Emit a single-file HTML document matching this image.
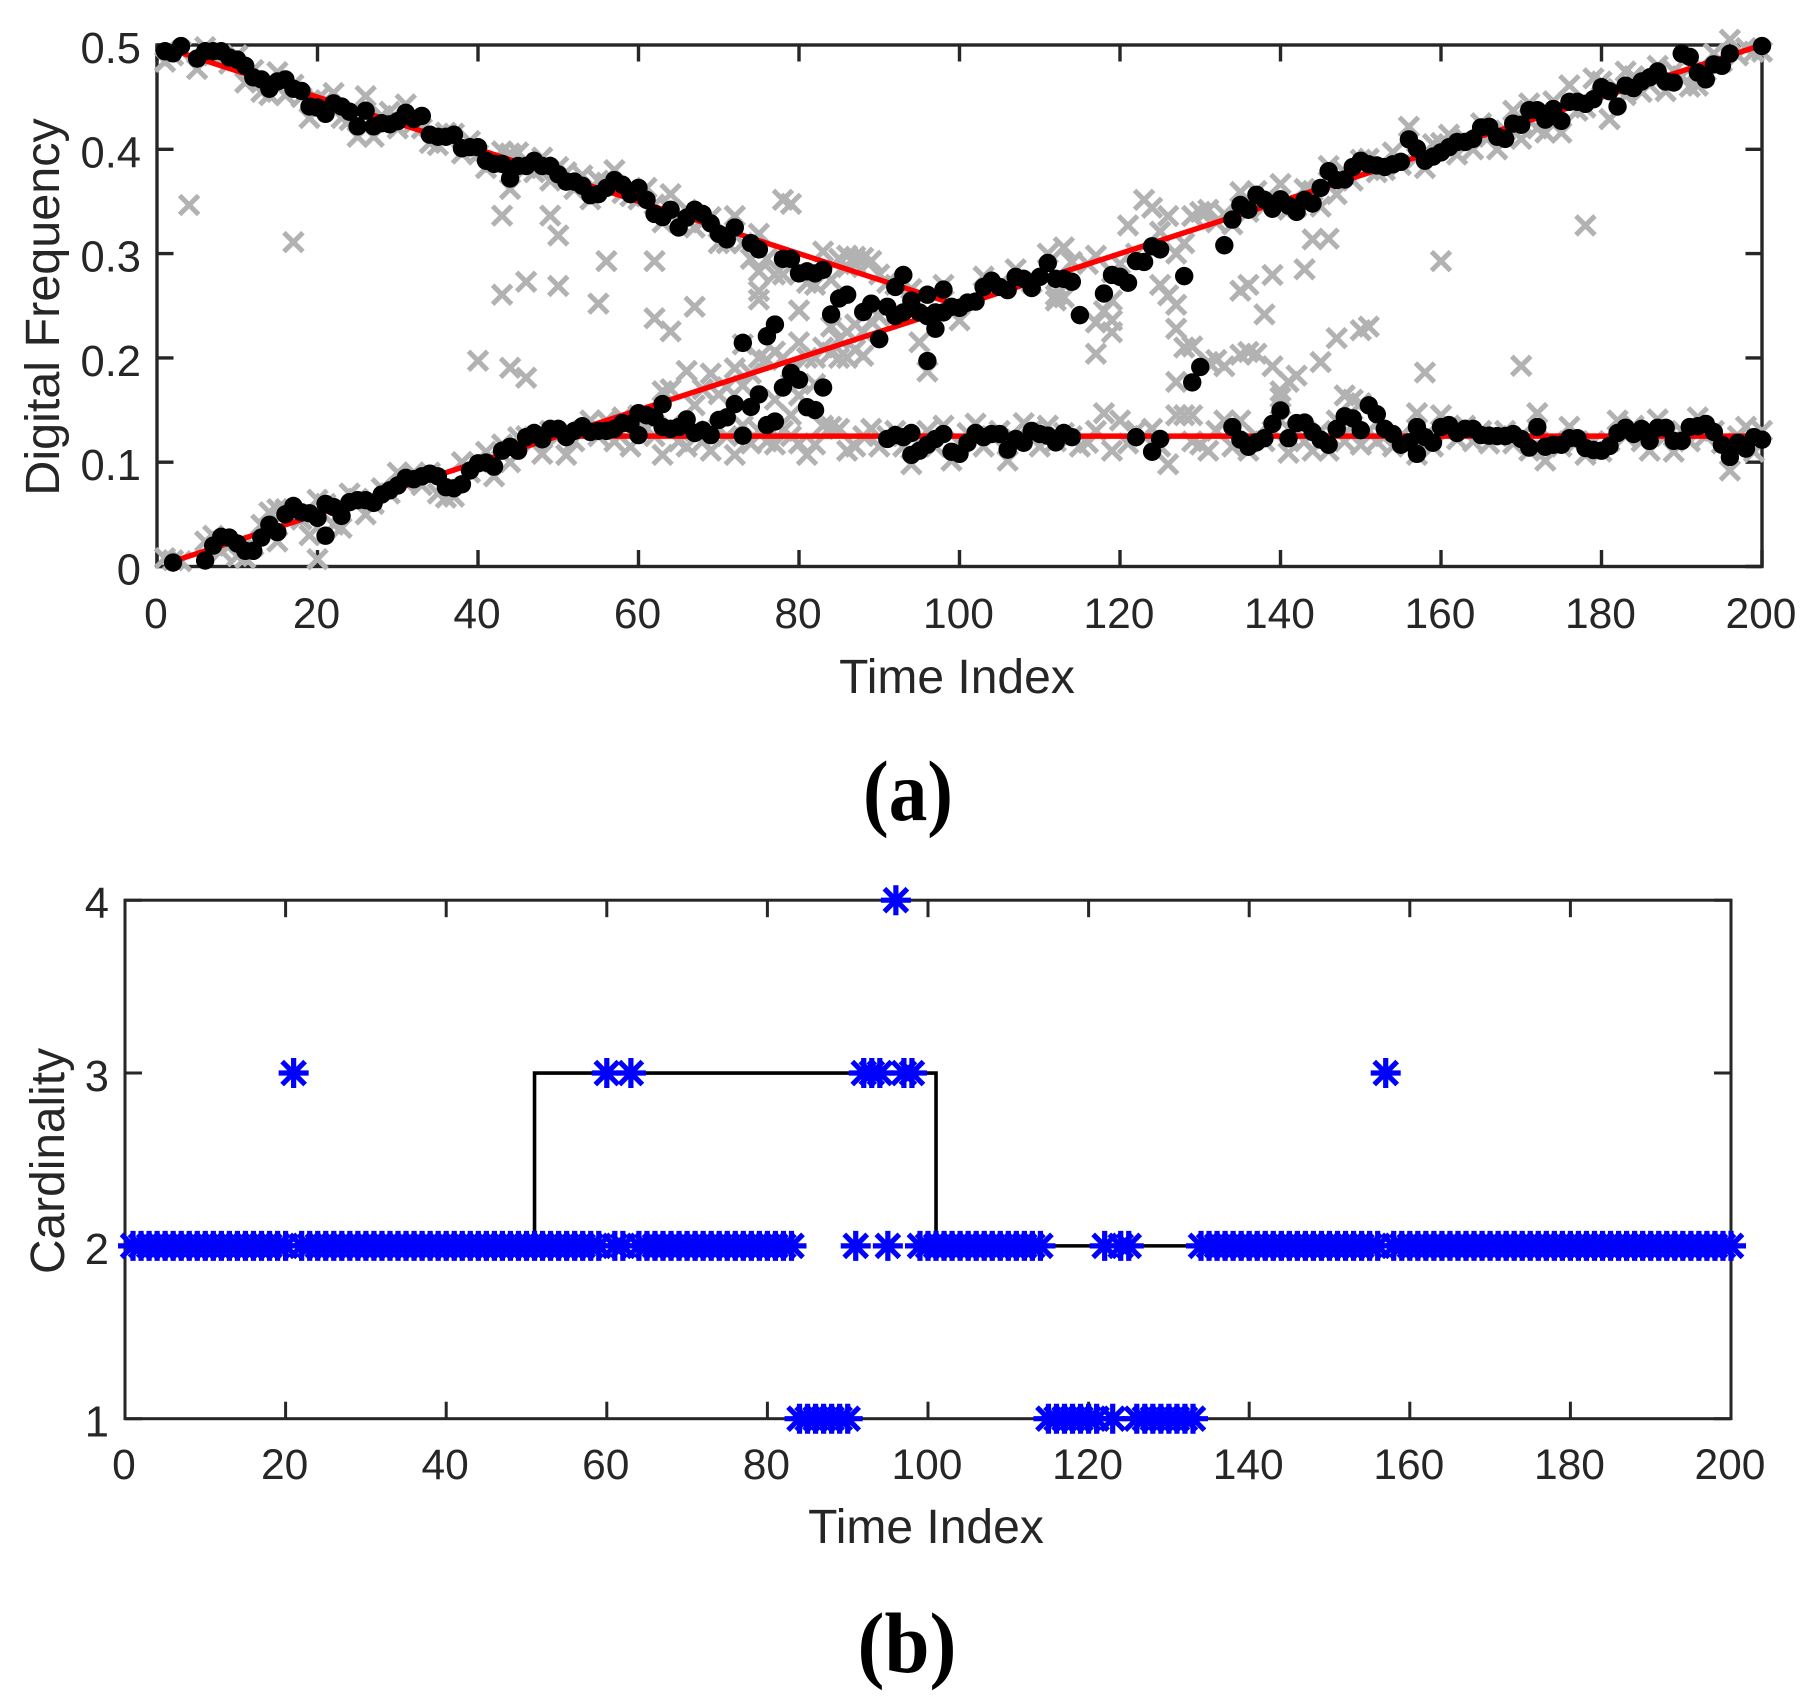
<!DOCTYPE html>
<html lang="en">
<head>
<meta charset="utf-8">
<title>Digital frequency and cardinality over time</title>
<style>
html,body{margin:0;padding:0;background:#fff;width:1819px;height:1706px;overflow:hidden}
svg{display:block}
text{font-family:"Liberation Sans",Arial,sans-serif;fill:#262626}
.cap{font-family:"Liberation Serif","Times New Roman",serif;font-weight:bold;fill:#000}
</style>
</head>
<body>
<svg id="fig" xmlns="http://www.w3.org/2000/svg" width="1819" height="1706" viewBox="0 0 1819 1706">
  <g id="panelA"></g>
  <g id="panelB"></g>
  <text transform="translate(59,307) rotate(-90)" text-anchor="middle" font-size="48.5">Digital Frequency</text>
  <text x="957" y="693" text-anchor="middle" font-size="48">Time Index</text>
  <text class="cap" x="908" y="820" text-anchor="middle" font-size="86" textLength="90" lengthAdjust="spacingAndGlyphs">(a)</text>
  <text transform="translate(64,1161) rotate(-90)" text-anchor="middle" font-size="48" textLength="226" lengthAdjust="spacingAndGlyphs">Cardinality</text>
  <text x="926" y="1543" text-anchor="middle" font-size="48">Time Index</text>
  <text class="cap" x="907" y="1672" text-anchor="middle" font-size="86" textLength="99" lengthAdjust="spacingAndGlyphs">(b)</text>
</svg>
<script>
const xTickLabels = [0,20,40,60,80,100,120,140,160,180,200];
const freqTickValues = [0,0.1,0.2,0.3,0.4,0.5];
const freqTickLabels = ["0","0.1","0.2","0.3","0.4","0.5"];
const cardTickValues = [1,2,3,4];
const cardTickLabels = ["1","2","3","4"];

const truthFallTimes = [1,100];
const truthFallValues = [0.4975,0.25];
const truthRiseTimes = [1,200];
const truthRiseValues = [0.0025,0.5];
const truthFlatTimes = [51,200];
const truthFlatValues = [0.125,0.125];

const greyUpper = [[1,.484],[2,.49],[3,.494],[5,.477],[6,.498],[7,.49],[8,.49],[9,.482],[10,.49],[11,.464],[12,.476],[13,.455],[14,.452],[15,.474],[16,.452],[17,.462],[18,.45],[19,.43],[20,.448],[21,.447],[22,.454],[23,.43],[24,.428],[25,.412],[26,.451],[27,.412],[28,.432],[29,.436],[30,.42],[31,.443],[32,.425],[33,.42],[34,.406],[35,.404],[36,.416],[37,.415],[38,.396],[39,.408],[40,.395],[41,.382],[42,.388],[43,.398],[44,.362],[44,.396],[45,.397],[46,.382],[47,.378],[48,.392],[49,.37],[50,.383],[51,.378],[52,.362],[53,.375],[54,.352],[55,.37],[56,.368],[57,.38],[58,.358],[59,.355],[60,.352],[61,.363],[62,.347],[63,.33],[64,.357],[65,.33],[66,.342],[67,.325],[68,.33],[69,.335],[70,.31],[71,.31],[72,.336],[73,.31],[74,.295],[75,.319],[75,.283],[76,.295],[77,.28],[78,.3515],[79,.3477],[78,.28],[80,.28],[81,.272],[82,.27],[83,.302],[84,.275],[85,.295],[86,.298],[86,.287],[87,.297],[87,.29],[88,.296],[89,.293],[90,.28],[91,.272],[92,.27],[94,.266],[98,.27],[103,.278],[105,.27],[107,.285],[109,.272],[111,.3],[113,.306],[114,.292],[116,.29],[117,.298],[119,.282],[120,.29],[121,.327],[122,.3],[123,.3515],[124,.344],[125,.321],[126,.336],[127,.3],[128,.31],[129,.336],[130,.34],[131,.342],[132,.33],[133,.338],[134,.328],[135,.359],[136,.34],[137,.36],[138,.345],[139,.35],[140,.3667],[141,.342],[142,.345],[143,.362],[144,.36],[145,.345],[146,.384],[147,.357],[148,.378],[149,.37],[150,.39],[151,.391],[152,.378],[153,.38],[154,.397],[155,.385],[156,.4216],[157,.392],[158,.382],[159,.405],[160,.406],[161,.414],[162,.395],[163,.41],[164,.4],[165,.425],[166,.412],[167,.4],[168,.418],[169,.437],[170,.41],[171,.444],[172,.42],[173,.416],[174,.446],[175,.416],[176,.4614],[177,.437],[178,.44],[179,.468],[180,.465],[181,.429],[182,.458],[183,.4746],[183,.452],[184,.47],[185,.455],[186,.462],[187,.48],[188,.4557],[189,.475],[190,.47],[191,.46],[192,.461],[193,.475],[194,.4917],[195,.484],[196,.505],[197,.49],[198,.497],[199,.4936],[200,.4936]];

const greyLower = [[1,.008],[2,.006],[3,.005],[6,.024],[7,.0295],[8,.015],[9,.02],[10,.01],[11,.008],[12,.02],[13,.04],[14,.052],[15,.024],[15,.055],[16,.055],[17,.05],[18,.045],[19,.03],[20,.064],[20,.007],[21,.06],[22,.04],[23,.037],[24,.07],[25,.065],[26,.05],[27,.06],[28,.075],[29,.07],[30,.09],[31,.08],[32,.09],[33,.078],[34,.09],[35,.07],[36,.066],[37,.067],[38,.1],[39,.09],[40,.1],[41,.11],[42,.0864],[43,.117],[44,.1],[45,.124],[46,.125],[47,.12],[48,.108],[49,.13],[50,.125],[51,.107],[52,.12],[53,.13],[54,.14],[55,.125],[56,.14],[57,.12],[58,.143],[59,.115],[60,.145],[61,.132],[62,.125],[63,.107],[64,.135],[65,.12],[66,.115],[67,.13],[68,.12],[69,.111],[70,.132],[71,.125],[72,.107],[73,.135],[74,.118],[75,.13],[76,.12],[77,.117],[78,.13],[79,.125],[80,.118],[81,.107],[82,.117],[83,.135],[84,.134],[85,.132],[86,.111],[87,.115],[88,.125],[89,.132],[90,.115],[91,.125],[92,.13],[93,.115],[94,.098],[95,.12],[96,.13],[97,.115],[98,.135],[99,.1015],[100,.118],[101,.128],[102,.137],[103,.115],[104,.125],[105,.13],[106,.1015],[107,.122],[108,.1375],[109,.13],[110,.115],[111,.135],[112,.12],[113,.128],[114,.125],[115,.115],[116,.1186],[117,.13],[118,.147],[119,.111],[120,.14],[121,.118],[122,.13],[123,.125],[124,.132],[125,.115],[126,.098],[127,.145],[128,.145],[129,.12],[130,.117],[131,.111],[132,.13],[133,.14],[134,.115],[135,.14],[136,.111],[137,.125],[138,.12],[139,.13],[140,.14],[141,.109],[142,.13],[143,.12],[144,.111],[145,.13],[146,.111],[147,.14],[148,.12],[149,.135],[150,.1167],[151,.13],[152,.12],[153,.125],[154,.115],[155,.125],[156,.12],[157,.147],[157,.107],[158,.125],[159,.115],[160,.145],[161,.13],[162,.122],[163,.135],[164,.12],[165,.13],[166,.118],[167,.125],[168,.13],[169,.118],[170,.125],[171,.111],[172,.147],[173,.1015],[174,.12],[175,.115],[176,.134],[177,.12],[178,.107],[179,.12],[180,.11],[181,.12],[182,.14],[183,.125],[184,.135],[185,.12],[186,.111],[187,.141],[188,.125],[189,.11],[190,.13],[191,.12],[192,.143],[193,.125],[194,.13],[195,.118],[196,.092],[197,.125],[198,.134],[199,.11],[200,.13]];

const greyScatter = [[4,.3466],[17,.311],[40,.1973],[43,.3364],[43,.2606],[44,.1905],[46,.273],[46,.181],[49,.3364],[50,.3174],[50,.269],[55,.252],[56,.2928],[62,.2928],[62,.238],[64,.2254],[67,.249],[63,.168],[64,.17],[66,.1875],[67,.1545],[68,.17],[69,.185],[70,.165],[71,.172],[72,.19],[73,.213],[73,.1735],[74,.185],[75,.2],[75,.264],[75,.256],[76,.198],[77,.206],[77,.16],[78,.2],[79,.145],[79,.19],[80,.2455],[80,.215],[80,.164],[81,.2],[82,.2],[82,.175],[83,.21],[84,.23],[84,.205],[85,.2],[85,.218],[86,.2],[86,.225],[87,.232],[87,.208],[88,.202],[88,.225],[89,.235],[90,.24],[95,.215],[96,.187],[100,.236],[112,.26],[112,.255],[113,.258],[117,.204],[117,.234],[118,.245],[119,.255],[119,.236],[119,.2246],[125,.27],[126,.26],[127,.251],[127,.228],[127,.177],[128,.21],[129,.211],[129,.145],[131,.196],[132,.198],[133,.192],[135,.2644],[135,.203],[136,.27],[136,.2057],[137,.204],[138,.2417],[139,.2795],[139,.192],[140,.168],[140,.162],[141,.177],[142,.183],[143,.285],[144,.3136],[145,.196],[146,.3144],[147,.219],[148,.164],[149,.16],[150,.2265],[150,.1565],[151,.23],[158,.186],[160,.2928],[170,.1924],[178,.327],[181,.429]];

const blackUpper = [[1,.494],[2,.492],[3,.499],[5,.487],[6,.494],[7,.494],[8,.494],[9,.488],[10,.486],[11,.48],[12,.469],[13,.467],[14,.458],[15,.465],[16,.467],[17,.458],[18,.456],[19,.441],[20,.44],[21,.434],[22,.444],[23,.441],[24,.436],[25,.422],[26,.437],[27,.422],[28,.425],[29,.424],[30,.427],[31,.435],[32,.429],[33,.432],[34,.414],[35,.412],[36,.412],[37,.414],[38,.401],[39,.402],[40,.402],[41,.389],[42,.386],[43,.386],[44,.372],[45,.384],[46,.384],[47,.389],[48,.384],[49,.384],[50,.376],[51,.369],[52,.369],[53,.365],[54,.356],[55,.357],[56,.363],[57,.3705],[58,.366],[59,.357],[60,.363],[61,.3515],[62,.338],[63,.335],[64,.342],[65,.325],[66,.3345],[67,.342],[68,.338],[69,.329],[70,.319],[71,.3136],[72,.325],[74,.31],[75,.304],[78,.295],[79,.295],[80,.281],[81,.283],[82,.281],[83,.2845],[92,.268],[93,.2795],[96,.2606],[98,.2655],[100,.248],[101,.253],[102,.254],[103,.268],[104,.274],[105,.268],[106,.265],[107,.2777],[108,.2758],[109,.267],[110,.2777],[111,.291],[112,.2758],[113,.2758],[114,.273],[115,.241],[118,.2617],[119,.2795],[120,.2777],[121,.272],[122,.2928],[123,.292],[124,.307],[125,.304],[128,.2784],[133,.308],[134,.3326],[135,.3466],[136,.342],[137,.3564],[138,.3515],[139,.343],[140,.352],[141,.346],[142,.34],[143,.3515],[144,.348],[145,.363],[146,.379],[147,.3705],[148,.371],[149,.383],[150,.389],[151,.3856],[152,.3845],[153,.383],[154,.3856],[155,.388],[156,.4095],[157,.4008],[158,.389],[159,.393],[160,.397],[161,.402],[162,.407],[163,.407],[164,.41],[165,.421],[166,.4216],[167,.412],[168,.41],[169,.4246],[170,.4235],[171,.4375],[172,.4375],[173,.4284],[174,.4386],[175,.4273],[176,.4455],[177,.4455],[178,.4436],[179,.448],[180,.4595],[181,.4557],[182,.441],[183,.461],[184,.4587],[185,.465],[186,.469],[187,.4746],[188,.465],[189,.464],[190,.4917],[191,.4886],[192,.4735],[193,.467],[194,.4814],[195,.48],[196,.4917],[200,.499]];

const blackMiddle = [[73,.2144],[76,.2208],[77,.232],[84,.2417],[85,.257],[86,.2606],[88,.244],[89,.252],[90,.218],[91,.249],[92,.24],[93,.2436],[94,.255],[95,.2436],[96,.197],[96,.24],[97,.228],[97,.2436],[98,.2436],[99,.249],[129,.1765],[130,.1913]];

const blackLower = [[2,.0038],[6,.0057],[7,.02],[8,.0284],[9,.0277],[10,.022],[11,.015],[12,.015],[13,.0277],[14,.04],[15,.033],[16,.05],[17,.058],[18,.052],[19,.051],[20,.0466],[21,.0295],[21,.06],[22,.057],[23,.0485],[24,.0617],[25,.0636],[26,.0636],[27,.061],[28,.069],[29,.073],[30,.0777],[31,.085],[32,.0837],[33,.0864],[34,.089],[35,.0864],[36,.076],[37,.075],[38,.0788],[39,.092],[40,.0989],[41,.0996],[42,.0958],[43,.111],[44,.1148],[45,.111],[46,.124],[47,.128],[48,.122],[49,.132],[50,.132],[51,.124],[52,.13],[53,.1345],[54,.129],[55,.13],[56,.13],[57,.132],[58,.1375],[59,.1367],[60,.147],[60,.126],[61,.145],[62,.143],[63,.1557],[63,.1337],[64,.132],[65,.1337],[66,.141],[67,.128],[68,.1307],[69,.126],[70,.1405],[71,.143],[72,.1557],[73,.1254],[74,.153],[75,.165],[76,.1356],[77,.139],[78,.1716],[79,.1856],[80,.179],[81,.1527],[82,.15],[83,.1716],[91,.1223],[92,.126],[93,.124],[94,.128],[94,.107],[95,.111],[96,.1167],[97,.1223],[98,.127],[99,.11],[100,.108],[101,.1186],[102,.128],[103,.124],[104,.127],[105,.127],[106,.112],[107,.1223],[108,.1186],[109,.13],[110,.127],[111,.1254],[112,.119],[113,.128],[114,.124],[122,.124],[124,.11],[125,.1223],[134,.1337],[135,.1216],[136,.1148],[137,.119],[138,.123],[139,.1367],[140,.1496],[141,.123],[142,.1375],[143,.138],[144,.129],[145,.1216],[146,.1167],[147,.132],[148,.144],[149,.142],[150,.1307],[151,.1545],[152,.146],[153,.132],[154,.127],[155,.1167],[156,.119],[157,.1337],[157,.108],[158,.124],[159,.1186],[160,.1337],[161,.1356],[162,.128],[163,.132],[164,.132],[165,.126],[166,.1254],[167,.125],[168,.125],[169,.127],[170,.1223],[171,.114],[172,.1337],[173,.1148],[174,.1167],[175,.1167],[176,.123],[177,.123],[178,.1136],[179,.1117],[180,.111],[181,.1155],[182,.128],[183,.133],[184,.127],[185,.132],[186,.1205],[187,.133],[188,.133],[189,.1205],[190,.1205],[191,.1337],[192,.1345],[193,.1367],[194,.129],[195,.1167],[196,.105],[197,.1186],[198,.113],[199,.124],[200,.1216]];

const trueCardTimes = [1,51,51,101,101,200];
const trueCardValues = [2,2,3,3,2,2];

const estCardValues = [
2,2,2,2,2,2,2,2,2,2,2,2,2,2,2,2,2,2,2,2,
3,2,2,2,2,2,2,2,2,2,2,2,2,2,2,2,2,2,2,2,
2,2,2,2,2,2,2,2,2,2,2,2,2,2,2,2,2,2,2,3,
2,2,3,2,2,2,2,2,2,2,2,2,2,2,2,2,2,2,2,2,
2,2,2,1,1,1,1,1,1,1,2,3,3,3,2,4,3,3,2,2,
2,2,2,2,2,2,2,2,2,2,2,2,2,2,1,1,1,1,1,1,
1,2,1,2,2,1,1,1,1,1,1,1,1,2,2,2,2,2,2,2,
2,2,2,2,2,2,2,2,2,2,2,2,2,2,2,2,3,2,2,2,
2,2,2,2,2,2,2,2,2,2,2,2,2,2,2,2,2,2,2,2,
2,2,2,2,2,2,2,2,2,2,2,2,2,2,2,2,2,2,2,2];

const NS = "http://www.w3.org/2000/svg";
const INK = "#262626";

const xA = t => 157 + (t / 200) * 1605;
const yA = v => 566.5 - (v / 0.5) * 521.5;
const xB = t => 125 + (t / 200) * 1606;
const yB = c => 1418.7 - ((c - 1) / 3) * 518.5;

function make(parent, tag, attrs, text) {
  const el = document.createElementNS(NS, tag);
  for (const k in attrs) el.setAttribute(k, attrs[k]);
  if (text !== undefined) el.textContent = text;
  parent.appendChild(el);
  return el;
}

function drawFrame(parent, L, R, T, B, xFn, yFn, yVals, yLabs, labelBaseline, tickLen, sw) {
  const frame = make(parent, "rect", {x:L, y:T, width:R-L, height:B-T, fill:"none", stroke:INK, "stroke-width":sw});
  
  
  xTickLabels.forEach(val => {
    const x = xFn(val);
    const bottomTick = make(parent, "line", {x1:x, x2:x, y1:B, y2:B-tickLen, stroke:INK, "stroke-width":sw});
    
    
    const topTick = make(parent, "line", {x1:x, x2:x, y1:T, y2:T+tickLen, stroke:INK, "stroke-width":sw});
    
    
    const lab = make(parent, "text", {x:x-1, y:labelBaseline, "text-anchor":"middle", "font-size":42.5}, String(val));
    
    
  });
  yVals.forEach((val, i) => {
    const y = yFn(val);
    const leftTick = make(parent, "line", {x1:L, x2:L+tickLen, y1:y, y2:y, stroke:INK, "stroke-width":sw});
    
    
    const rightTick = make(parent, "line", {x1:R, x2:R-tickLen, y1:y, y2:y, stroke:INK, "stroke-width":sw});
    
    
    const lab = make(parent, "text", {x:L-16, y:y+18, "text-anchor":"end", "font-size":43.5}, yLabs[i]);
    
    
  });
}

function drawCross(parent, pair) {
  const x = xA(pair[0]), y = yA(pair[1]), a = 9.5;
  const c = make(parent, "path", {d:`M${x-a} ${y-a}L${x+a} ${y+a}M${x-a} ${y+a}L${x+a} ${y-a}`, stroke:"#b2b2b2", "stroke-width":5, fill:"none"});
  
  
}

function drawDot(parent, pair) {
  const d = make(parent, "circle", {cx:xA(pair[0]), cy:yA(pair[1]), r:9.2, fill:"#000"});
  
  
}

function drawStar(parent, t, c) {
  const x = xB(t), y = yB(c), h = 15, d = 11.5;
  const s = make(parent, "path", {d:`M${x-h} ${y}L${x+h} ${y}M${x} ${y-h}L${x} ${y+h}M${x-d} ${y-d}L${x+d} ${y+d}M${x-d} ${y+d}L${x+d} ${y-d}`, stroke:"#0000ff", "stroke-width":5.2, fill:"none"});
  
  
}

const A = document.getElementById("panelA");
const B = document.getElementById("panelB");

drawFrame(A, 157, 1762, 45, 566.5, xA, yA, freqTickValues, freqTickLabels, 628, 16.5, 3.4);

greyUpper.forEach(p => drawCross(A, p));
greyLower.forEach(p => drawCross(A, p));
greyScatter.forEach(p => drawCross(A, p));

[[truthFallTimes, truthFallValues, 'true-track-falling'],
 [truthRiseTimes, truthRiseValues, 'true-track-rising'],
 [truthFlatTimes, truthFlatValues, 'true-track-constant']].forEach(trk => {
  const pts = trk[0].map((t, i) => xA(t) + "," + yA(trk[1][i])).join(" ");
  const line = make(A, "polyline", {points:pts, fill:"none", stroke:"#ff0000", "stroke-width":5.4});
  
  
});

blackUpper.forEach(p => drawDot(A, p));
blackMiddle.forEach(p => drawDot(A, p));
blackLower.forEach(p => drawDot(A, p));

drawFrame(B, 125, 1731, 900.2, 1418.7, xB, yB, cardTickValues, cardTickLabels, 1479, 17, 3);

const stepPts = trueCardTimes.map((t, i) => xB(t) + "," + yB(trueCardValues[i])).join(" ");
const stepLine = make(B, "polyline", {points:stepPts, fill:"none", stroke:"#000", "stroke-width":3.6});



estCardValues.forEach((c, i) => drawStar(B, i + 1, c));
</script>
</body>
</html>
